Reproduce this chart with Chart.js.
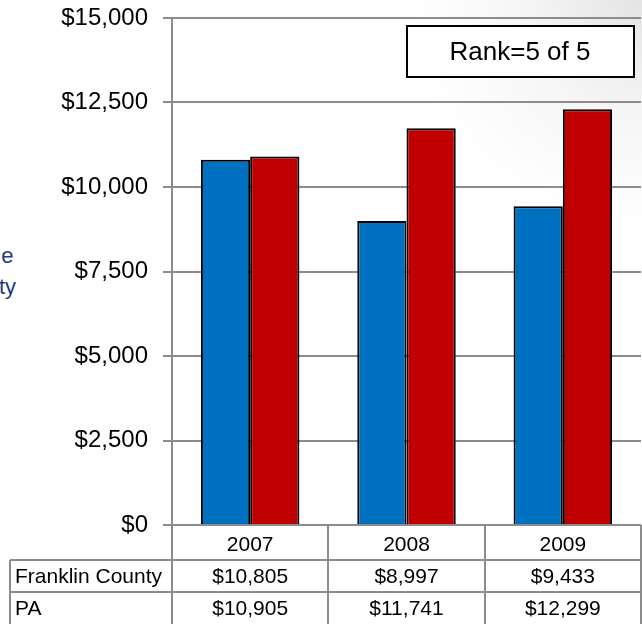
<!DOCTYPE html>
<html>
<head>
<meta charset="utf-8">
<script src="https://cdn.jsdelivr.net/npm/chart.js@4/dist/chart.umd.min.js"></script>
<style>
  html, body { margin:0; padding:0; }
  body {
    width:642px; height:624px; overflow:hidden; position:relative;
    background: radial-gradient(circle at 100% 0, #e4e4e4 0, #f6f6f6 120px, #ffffff 230px);
    font-family: "Liberation Sans", Arial, sans-serif;
  }
  #wrap { position:absolute; left:0; top:0; width:642px; height:624px; }
  .side {
    position:absolute; right:626px; top:240px; color:#1f3a87;
    font-size:22px; line-height:31px; text-align:center; white-space:nowrap;
  }
</style>
</head>
<body>
<div class="side">e<br>ty</div>
<div id="wrap"><canvas id="chart" width="642" height="624"></canvas></div>
<script>

// ============================
// DATA
// ============================

const years = ["2007", "2008", "2009"];
const franklinCounty = [10805, 8997, 9433];
const paState = [10905, 11741, 12299];
const seriesNames = ["Franklin County", "PA"];
const rankText = "Rank=5 of 5";

const FONT = '"Liberation Sans", Arial, sans-serif';
const GRID = "#8c8c8c";

function money(v){
  return "$" + v.toLocaleString("en-US");
}

// table under the chart + rank box
const tablePlugin = {
  id: "dataTable",
  afterDraw(chart){
    const ctx = chart.ctx;
    const x = chart.scales.x;
    const area = chart.chartArea;
    const top = area.bottom;
    const row1 = 560, row2 = 592, end = 624;
    const colW = (area.right - area.left) / years.length;

    ctx.save();
    ctx.strokeStyle = GRID;
    ctx.lineWidth = 2;

    // vertical lines of the value columns
    for(let i = 0; i <= years.length; i++){
      const px = Math.round(area.left + colW * i);
      ctx.beginPath();
      ctx.moveTo(px, top);
      ctx.lineTo(px, end);
      ctx.stroke();
    }
    // row lines
    ctx.beginPath();
    ctx.moveTo(10, row1); ctx.lineTo(area.right, row1);
    ctx.moveTo(10, row2); ctx.lineTo(area.right, row2);
    ctx.moveTo(10, row1); ctx.lineTo(10, end);
    ctx.stroke();

    // text
    ctx.fillStyle = "#000";
    ctx.font = "21px " + FONT;
    ctx.textBaseline = "middle";
    ctx.textAlign = "left";
    ctx.fillText(seriesNames[0], 15, (row1 + row2) / 2 + 1);
    ctx.fillText(seriesNames[1], 15, (row2 + end) / 2 + 1);

    ctx.textAlign = "center";
    years.forEach((y, i) => {
      const cx = x.getPixelForValue(i);
      ctx.fillText(money(franklinCounty[i]), cx, (row1 + row2) / 2 + 1);
      ctx.fillText(money(paState[i]), cx, (row2 + end) / 2 + 1);
    });

    // rank box
    ctx.fillStyle = "#fff";
    ctx.fillRect(407, 26, 227, 51);
    ctx.strokeStyle = "#000";
    ctx.lineWidth = 2;
    ctx.strokeRect(407, 26, 227, 51);
    ctx.fillStyle = "#000";
    ctx.font = "26px " + FONT;
    ctx.fillText(rankText, 520, 53);

    ctx.restore();
  }
};

new Chart(document.getElementById("chart"), {
  type: "bar",
  data: {
    labels: years,
    datasets: [
      {
        label: seriesNames[0],
        data: franklinCounty,
        backgroundColor: "#0070c0",
        borderColor: "#000",
        borderWidth: 2,
        barPercentage: 1,
        categoryPercentage: 0.63
      },
      {
        label: seriesNames[1],
        data: paState,
        backgroundColor: "#c00000",
        borderColor: "#000",
        borderWidth: 2,
        barPercentage: 1,
        categoryPercentage: 0.63
      }
    ]
  },
  options: {
    responsive: false,
    animation: false,
    devicePixelRatio: 1,
    layout: { padding: { top: 18, right: 1, left: 0, bottom: 0 } },
    plugins: {
      legend: { display: false },
      tooltip: { enabled: false }
    },
    scales: {
      x: {
        grid: { display: false },
        border: { display: false },
        ticks: {
          color: "#000",
          padding: 0,
          font: { family: FONT, size: 21 }
        },
        afterFit(scale){
          scale.height = 99;
          scale.paddingLeft = 0;
          scale.paddingRight = 0;
        }
      },
      y: {
        min: 0,
        max: 15000,
        ticks: {
          stepSize: 2500,
          color: "#000",
          padding: 15,
          font: { family: FONT, size: 24 },
          callback: v => money(v)
        },
        grid: {
          color: GRID,
          lineWidth: 2,
          tickLength: 9
        },
        border: { color: GRID, width: 2 },
        afterFit(scale){
          scale.width = 172;
          scale.paddingTop = 0;
          scale.paddingBottom = 0;
        }
      }
    }
  },
  plugins: [tablePlugin]
});
</script>
</body>
</html>
